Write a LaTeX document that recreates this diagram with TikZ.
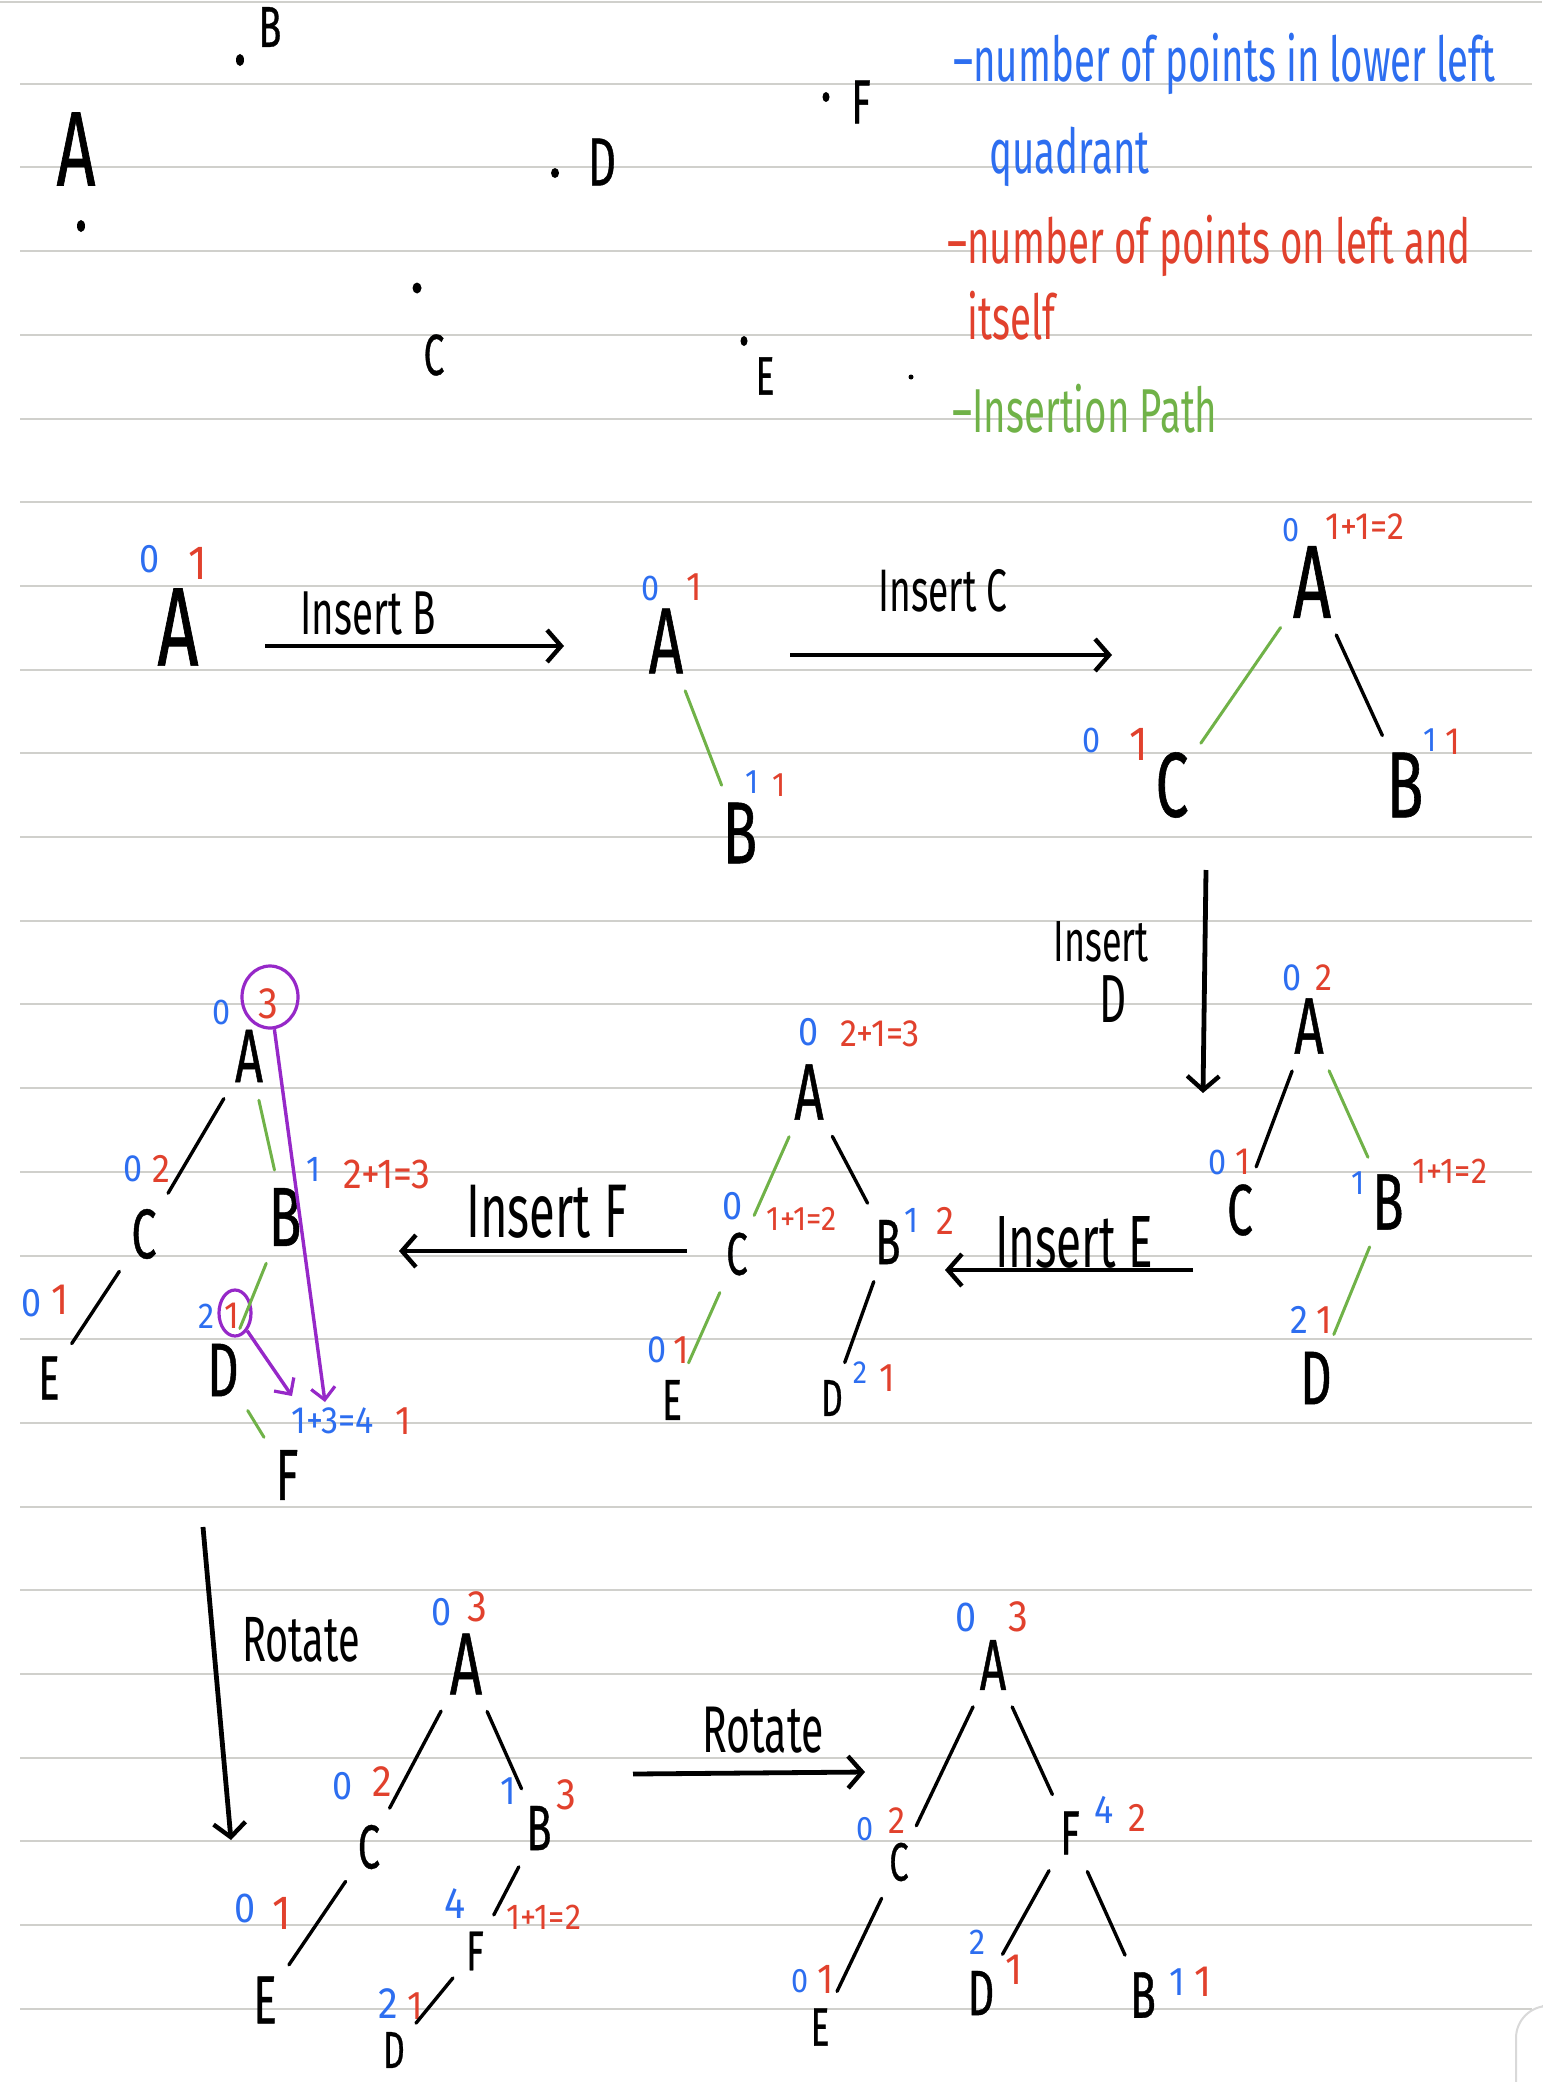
\documentclass[tikz,border=0pt]{standalone}
\usepackage{fontspec}
\newfontfamily\hand{Fira Sans}[FakeStretch=0.62]
\newfontfamily\handb{Fira Sans}[FakeStretch=0.64, FakeBold=0.6]
\newfontfamily\handn{Fira Sans}[FakeStretch=0.9]
\usetikzlibrary{arrows.meta,shapes.geometric}
\definecolor{nblue}{RGB}{45,110,240}
\definecolor{nred}{RGB}{225,65,45}
\definecolor{ngreen}{RGB}{112,178,72}
\definecolor{npurple}{RGB}{150,40,200}
\definecolor{rulec}{RGB}{208,208,204}
\newcommand\hfs[1]{\fontsize{#1}{#1}\selectfont}
\begin{document}
\begin{tikzpicture}[x=0.5pt,y=-0.5pt,
  L/.style={font=\handb\hfs{#1}, inner sep=2pt, text=black},
  L/.default=40,
  bl/.style={font=\handn\hfs{#1}, text=nblue, inner sep=0pt},
  bl/.default=20,
  rd/.style={font=\handn\hfs{#1}, text=nred, inner sep=0pt},
  rd/.default=22,
  txt/.style={font=\hand\hfs{#1}, inner sep=0pt},
  txt/.default=30,
  ed/.style={line width=1.7pt, line cap=round, shorten <=7pt, shorten >=7pt},
  ged/.style={ed, draw=ngreen, line width=1.5pt},
  arr/.style={line width=2.4pt, -{Straight Barb[length=7pt,width=16pt,line width=2.2pt]}},
  parr/.style={line width=1.7pt, draw=npurple, -{Straight Barb[length=6pt,width=12pt,line width=1.6pt]}},
  pcirc/.style={ellipse, draw=npurple, line width=1.6pt, inner sep=0pt},
  rulel/.style={draw=rulec, line width=1pt},
  dotm/.style={fill=black}
]
\fill[white] (0,0) rectangle (1542,2082);
\useasboundingbox (0,0) rectangle (1542,2082);
% ruled paper
\draw[rulel] (0,2) -- (1542,2);
\foreach \k in {1,...,24} \draw[rulel] (20,{83.7*\k}) -- (1532,{83.7*\k});
\draw[line width=1pt, draw=gray!30, rounded corners=16pt] (1542,2006) -- (1516,2006) -- (1516,2082);

% ---------- scattered points ----------
\fill[dotm] (240,60) ellipse (4 and 6);
\fill[dotm] (81,226) ellipse (4 and 6);
\fill[dotm] (555,173) ellipse (4 and 5);
\fill[dotm] (826,97) ellipse (3.5 and 5);
\fill[dotm] (417,288) ellipse (4.5 and 5.5);
\fill[dotm] (744,341) ellipse (3.5 and 5);
\fill[dotm] (911,377) circle (2.5);
\node[L=29] (pB) at (270,27) {B};
\node[L=53] (pA) at (76,149) {A};
\node[L=34] (pD) at (602,162) {D};
\node[L=31] (pF) at (861,102) {F};
\node[L=29] (pC) at (434,355) {C};
\node[L=27] (pE) at (765,376) {E};

% ---------- legend ----------
\node[txt=31, text=nblue, anchor=base west] (lg1) at (953,82) {–number of points in lower left};
\node[txt=31, text=nblue, anchor=base west] (lg2) at (989,173) {quadrant};
\node[txt=31, text=nred, anchor=base west] (lg3) at (947,263) {–number of points on left and};
\node[txt=31, text=nred, anchor=base west] (lg4) at (967,339) {itself};
\node[txt=31, text=ngreen, anchor=base west] (lg5) at (952,432) {–Insertion Path};

% ---------- tree 1 ----------
\node[L=56] (t1A) at (178,627) {A};
\node[bl=20] (t1Ab) at (150,559) {0};
\node[rd=24] (t1Ar) at (198,563) {1};
\coordinate (a1s) at (265,646); \coordinate (a1e) at (564,646);
\draw[arr] (a1s) -- (a1e);
\node[txt=31] (a1l) at (368,614) {Insert B};

% ---------- tree 2 ----------
\node[L=47] (t2A) at (666,641) {A};
\node[bl=18] (t2Ab) at (651,588) {0};
\node[rd=20] (t2Ar) at (694,587) {1};
\node[L=44] (t2B) at (740,833) {B};
\node[bl=17] (t2Bb) at (752,782) {1};
\node[rd=17] (t2Br) at (779,785) {1};
\draw[ged] (t2A) -- (t2B);
\coordinate (a2s) at (790,655); \coordinate (a2e) at (1112,655);
\draw[arr] (a2s) -- (a2e);
\node[txt=30] (a2l) at (943,591) {Insert C};

% ---------- tree 3 ----------
\node[L=52] (t3A) at (1312,582) {A};
\node[bl=17] (t3Ab) at (1291,530) {0};
\node[rd=19] (t3Ar) at (1365,527) {1+1=2};
\node[L=46] (t3C) at (1172,785) {C};
\node[bl=18] (t3Cb) at (1092,740) {0};
\node[rd=24] (t3Cr) at (1139,744) {1};
\node[L=47] (t3B) at (1405,785) {B};
\node[bl=17] (t3Bb) at (1430,740) {1};
\node[rd=19] (t3Br) at (1453,742) {1};
\draw[ged] (t3A) -- (t3C);
\draw[ed] (t3A) -- (t3B);
\coordinate (a3s) at (1206,870); \coordinate (a3e) at (1203,1093);
\draw[arr] (a3s) -- (a3e);
\node[txt=29] (a3l) at (1101,942) {Insert};
\node[txt=34] (a3d) at (1113,999) {D};

% ---------- tree 4 ----------
\node[L=40] (t4A) at (1309,1026) {A};
\node[bl=19] (t4Ab) at (1292,978) {0};
\node[rd=19] (t4Ar) at (1324,978) {2};
\node[L=36] (t4C) at (1240,1210) {C};
\node[bl=18] (t4Cb) at (1218,1162) {0};
\node[rd=19] (t4Cr) at (1243,1162) {1};
\node[L=40] (t4B) at (1388,1202) {B};
\node[bl=17] (t4Bb) at (1358,1183) {1};
\node[rd=18] (t4Br) at (1450,1171) {1+1=2};
\node[L=38] (t4D) at (1316,1378) {D};
\node[bl=20] (t4Db) at (1299,1320) {2};
\node[rd=20] (t4Dr) at (1324,1320) {1};
\draw[ed] (t4A) -- (t4C);
\draw[ged] (t4A) -- (t4B);
\draw[ged] (t4B) -- (t4D);
\coordinate (a4s) at (1193,1270); \coordinate (a4e) at (945,1270);
\draw[arr] (a4s) -- (a4e);
\node[txt=37] (a4l) at (1074,1242) {Insert E};

% ---------- tree 5 ----------
\node[L=40] (t5A) at (809,1092) {A};
\node[bl=20] (t5Ab) at (809,1032) {0};
\node[rd=19] (t5Ar) at (880,1034) {2+1=3};
\node[L=30] (t5C) at (737,1254) {C};
\node[bl=20] (t5Cb) at (733,1206) {0};
\node[rd=17] (t5Cr) at (802,1219) {1+1=2};
\node[L=32] (t5B) at (888,1242) {B};
\node[bl=18] (t5Bb) at (912,1220) {1};
\node[rd=20] (t5Br) at (945,1221) {2};
\node[L=29] (t5E) at (672,1400) {E};
\node[bl=19] (t5Eb) at (657,1350) {0};
\node[rd=20] (t5Er) at (681,1350) {1};
\node[L=26] (t5D) at (832,1398) {D};
\node[bl=16] (t5Db) at (860,1373) {2};
\node[rd=20] (t5Dr) at (887,1378) {1};
\draw[ged] (t5A) -- (t5C);
\draw[ed] (t5A) -- (t5B);
\draw[ged] (t5C) -- (t5E);
\draw[ed] (t5B) -- (t5D);
\coordinate (a5s) at (687,1251); \coordinate (a5e) at (399,1251);
\draw[arr] (a5s) -- (a5e);
\node[txt=38] (a5l) at (547,1212) {Insert\hspace{7pt}F};

% ---------- tree 6 ----------
\node[L=38] (t6A) at (249,1056) {A};
\node[bl=18] (t6Ab) at (222,1012) {0};
\node[rd=22] (t6Ar) at (268,1004) {3};
\node[pcirc, minimum width=28pt, minimum height=31pt] (circ3) at (270,997) {};
\node[L=35] (t6C) at (144,1234) {C};
\node[bl=19] (t6Cb) at (133,1169) {0};
\node[rd=20] (t6Cr) at (161,1169) {2};
\node[L=42] (t6B) at (285,1217) {B};
\node[bl=18] (t6Bb) at (314,1169) {1};
\node[rd=21] (t6Br) at (387,1174) {2+1=3};
\node[L=31] (t6E) at (49,1378) {E};
\node[bl=20] (t6Eb) at (32,1303) {0};
\node[rd=22] (t6Er) at (60,1300) {1};
\node[L=38, inner sep=1pt] (t6D) at (223,1370) {D};
\node[bl=18] (t6Db) at (207,1316) {2};
\node[rd=19] (t6Dr) at (232,1316) {1};
\node[pcirc, minimum width=16pt, minimum height=23pt] (circ1) at (235,1313) {};
\node[L=36] (t6F) at (287,1475) {F};
\node[bl=19] (t6Fb) at (333,1421) {1+3=4};
\node[rd=20] (t6Fr) at (403,1421) {1};
\draw[ed] (t6A) -- (t6C);
\draw[ged] (t6A) -- (t6B);
\draw[ed] (t6C) -- (t6E);
\draw[ged] (t6B) -- (t6D);
\draw[ged] (t6D) -- (t6F);
\coordinate (pe1) at (325,1402); \coordinate (pe2) at (292,1396);
\draw[parr] (circ3) -- (pe1);
\draw[parr] (circ1) -- (pe2);
\coordinate (a6s) at (203,1527); \coordinate (a6e) at (231,1840);
\draw[arr] (a6s) -- (a6e);
\node[txt=32] (a6l) at (301,1640) {Rotate};

% ---------- tree 7 ----------
\node[L=44] (t7A) at (466,1664) {A};
\node[bl=20] (t7Ab) at (442,1612) {0};
\node[rd=22] (t7Ar) at (477,1607) {3};
\node[L=31] (t7C) at (369,1847) {C};
\node[bl=20] (t7Cb) at (343,1786) {0};
\node[rd=22] (t7Cr) at (382,1782) {2};
\node[L=32] (t7B) at (539,1828) {B};
\node[bl=20] (t7Bb) at (508,1791) {1};
\node[rd=22] (t7Br) at (566,1795) {3};
\node[L=34] (t7E) at (265,2000) {E};
\node[bl=21] (t7Eb) at (245,1908) {0};
\node[rd=24] (t7Er) at (282,1913) {1};
\node[L=28] (t7F) at (475,1951) {F};
\node[bl=22] (t7Fb) at (455,1904) {4};
\node[rd=18] (t7Fr) at (544,1917) {1+1=2};
\node[L=26, inner sep=1pt] (t7D) at (394,2050) {D};
\node[bl=22] (t7Db) at (388,2004) {2};
\node[rd=20] (t7Dr) at (415,2006) {1};
\draw[ed] (t7A) -- (t7C);
\draw[ed] (t7A) -- (t7B);
\draw[ed] (t7C) -- (t7E);
\draw[ed] (t7B) -- (t7F);
\draw[ed] (t7F) -- (t7D);
\coordinate (a7s) at (633,1774); \coordinate (a7e) at (865,1772);
\draw[arr] (a7s) -- (a7e);
\node[txt=33] (a7l) at (763,1730) {Rotate};

% ---------- tree 8 ----------
\node[L=36] (t8A) at (993,1665) {A};
\node[bl=21] (t8Ab) at (966,1617) {0};
\node[rd=22] (t8Ar) at (1018,1617) {3};
\node[L=27] (t8C) at (899,1862) {C};
\node[bl=17] (t8Cb) at (865,1829) {0};
\node[rd=19] (t8Cr) at (897,1821) {2};
\node[L=31] (t8F) at (1070,1833) {F};
\node[bl=20] (t8Fb) at (1104,1810) {4};
\node[rd=20] (t8Fr) at (1137,1818) {2};
\node[L=27] (t8E) at (820,2027) {E};
\node[bl=17] (t8Eb) at (800,1981) {0};
\node[rd=21] (t8Er) at (826,1979) {1};
\node[L=32] (t8D) at (981,1993) {D};
\node[bl=18] (t8Db) at (978,1942) {2};
\node[rd=22] (t8Dr) at (1014,1970) {1};
\node[L=33] (t8B) at (1143,1995) {B};
\node[bl=20] (t8Bb) at (1177,1982) {1};
\node[rd=22] (t8Br) at (1203,1982) {1};
\draw[ed] (t8A) -- (t8C);
\draw[ed] (t8A) -- (t8F);
\draw[ed] (t8C) -- (t8E);
\draw[ed] (t8F) -- (t8D);
\draw[ed] (t8F) -- (t8B);
\end{tikzpicture}
\end{document}
